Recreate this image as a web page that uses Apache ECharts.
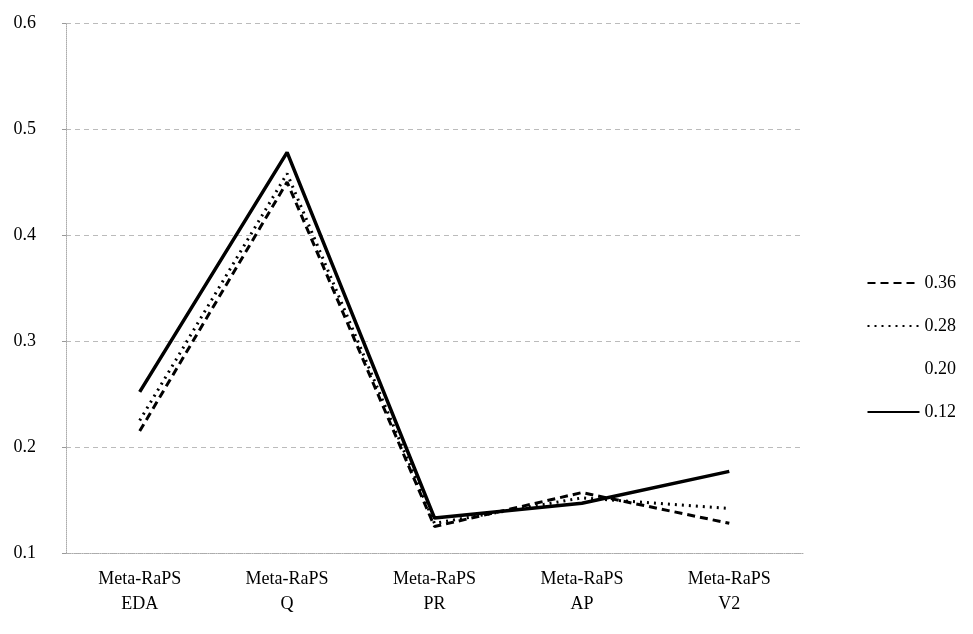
<!DOCTYPE html>
<html>
<head>
<meta charset="utf-8">
<script src="https://cdn.jsdelivr.net/npm/echarts@6/dist/echarts.min.js"></script>
<style>
  html, body { margin: 0; padding: 0; background: #fff; }
  #chart { width: 973px; height: 634px; }
</style>
</head>
<body>
<div id="chart"></div>
<script>
// categories on the x axis
const categories = ['Meta-RaPS\nEDA', 'Meta-RaPS\nQ', 'Meta-RaPS\nPR', 'Meta-RaPS\nAP', 'Meta-RaPS\nV2']
// one line per parameter value
const s036 = [0.215, 0.450, 0.125, 0.157, 0.128]
const s028 = [0.225, 0.458, 0.128, 0.152, 0.142]
const s020 = [0.222, 0.455, 0.127, 0.153, 0.135]
const s012 = [0.252, 0.478, 0.133, 0.147, 0.177]
const yTicks = [0.1, 0.2, 0.3, 0.4, 0.5, 0.6]

const font = 'Liberation Serif'

function line (name, data, type, width, opacity) {
  return {
    name: name,
    type: 'line',
    data: data,
    symbol: 'none',
    lineStyle: { color: '#000', width: width, type: type, opacity: opacity },
    itemStyle: { color: '#000' }
  }
}

let myChart = echarts.init(document.getElementById('chart'), null, { renderer: 'canvas' })
myChart.setOption({
  animation: false,
  backgroundColor: '#fff',
  textStyle: { fontFamily: font, color: '#000' },
  grid: { left: 66, right: 170, top: 23, bottom: 81 },
  legend: {
    orient: 'vertical',
    right: 12,
    top: 269,
    itemWidth: 52,
    itemHeight: 12,
    itemGap: 25,
    itemStyle: { opacity: 0 },
    textStyle: { fontFamily: font, fontSize: 18, color: '#000' },
    data: ['0.36', '0.28', '0.20', '0.12']
  },
  xAxis: {
    type: 'category',
    data: categories,
    boundaryGap: true,
    axisLine: { show: true, lineStyle: { color: '#aaa', type: 'dotted' } },
    axisTick: { show: false },
    axisLabel: { fontFamily: font, fontSize: 18, color: '#000', lineHeight: 25, margin: 14 }
  },
  yAxis: {
    type: 'value',
    min: 0.1,
    max: 0.6,
    interval: 0.1,
    axisLine: { show: true, lineStyle: { color: '#aaa', type: 'dotted' } },
    axisTick: { show: true, length: 4, lineStyle: { color: '#999' } },
    axisLabel: {
      fontFamily: font, fontSize: 18, color: '#000', margin: 30,
      formatter: v => yTicks.find(t => Math.abs(t - v) < 1e-6).toFixed(1)
    },
    splitLine: { show: true, lineStyle: { color: '#bbb', type: [5, 4], width: 1 } }
  },
  series: [
    line('0.36', s036, [8, 5], 3, 1),
    line('0.28', s028, [2, 5], 3, 1),
    line('0.20', s020, 'solid', 1, 0),
    line('0.12', s012, 'solid', 3.5, 1)
  ]
})
</script>
</body>
</html>
